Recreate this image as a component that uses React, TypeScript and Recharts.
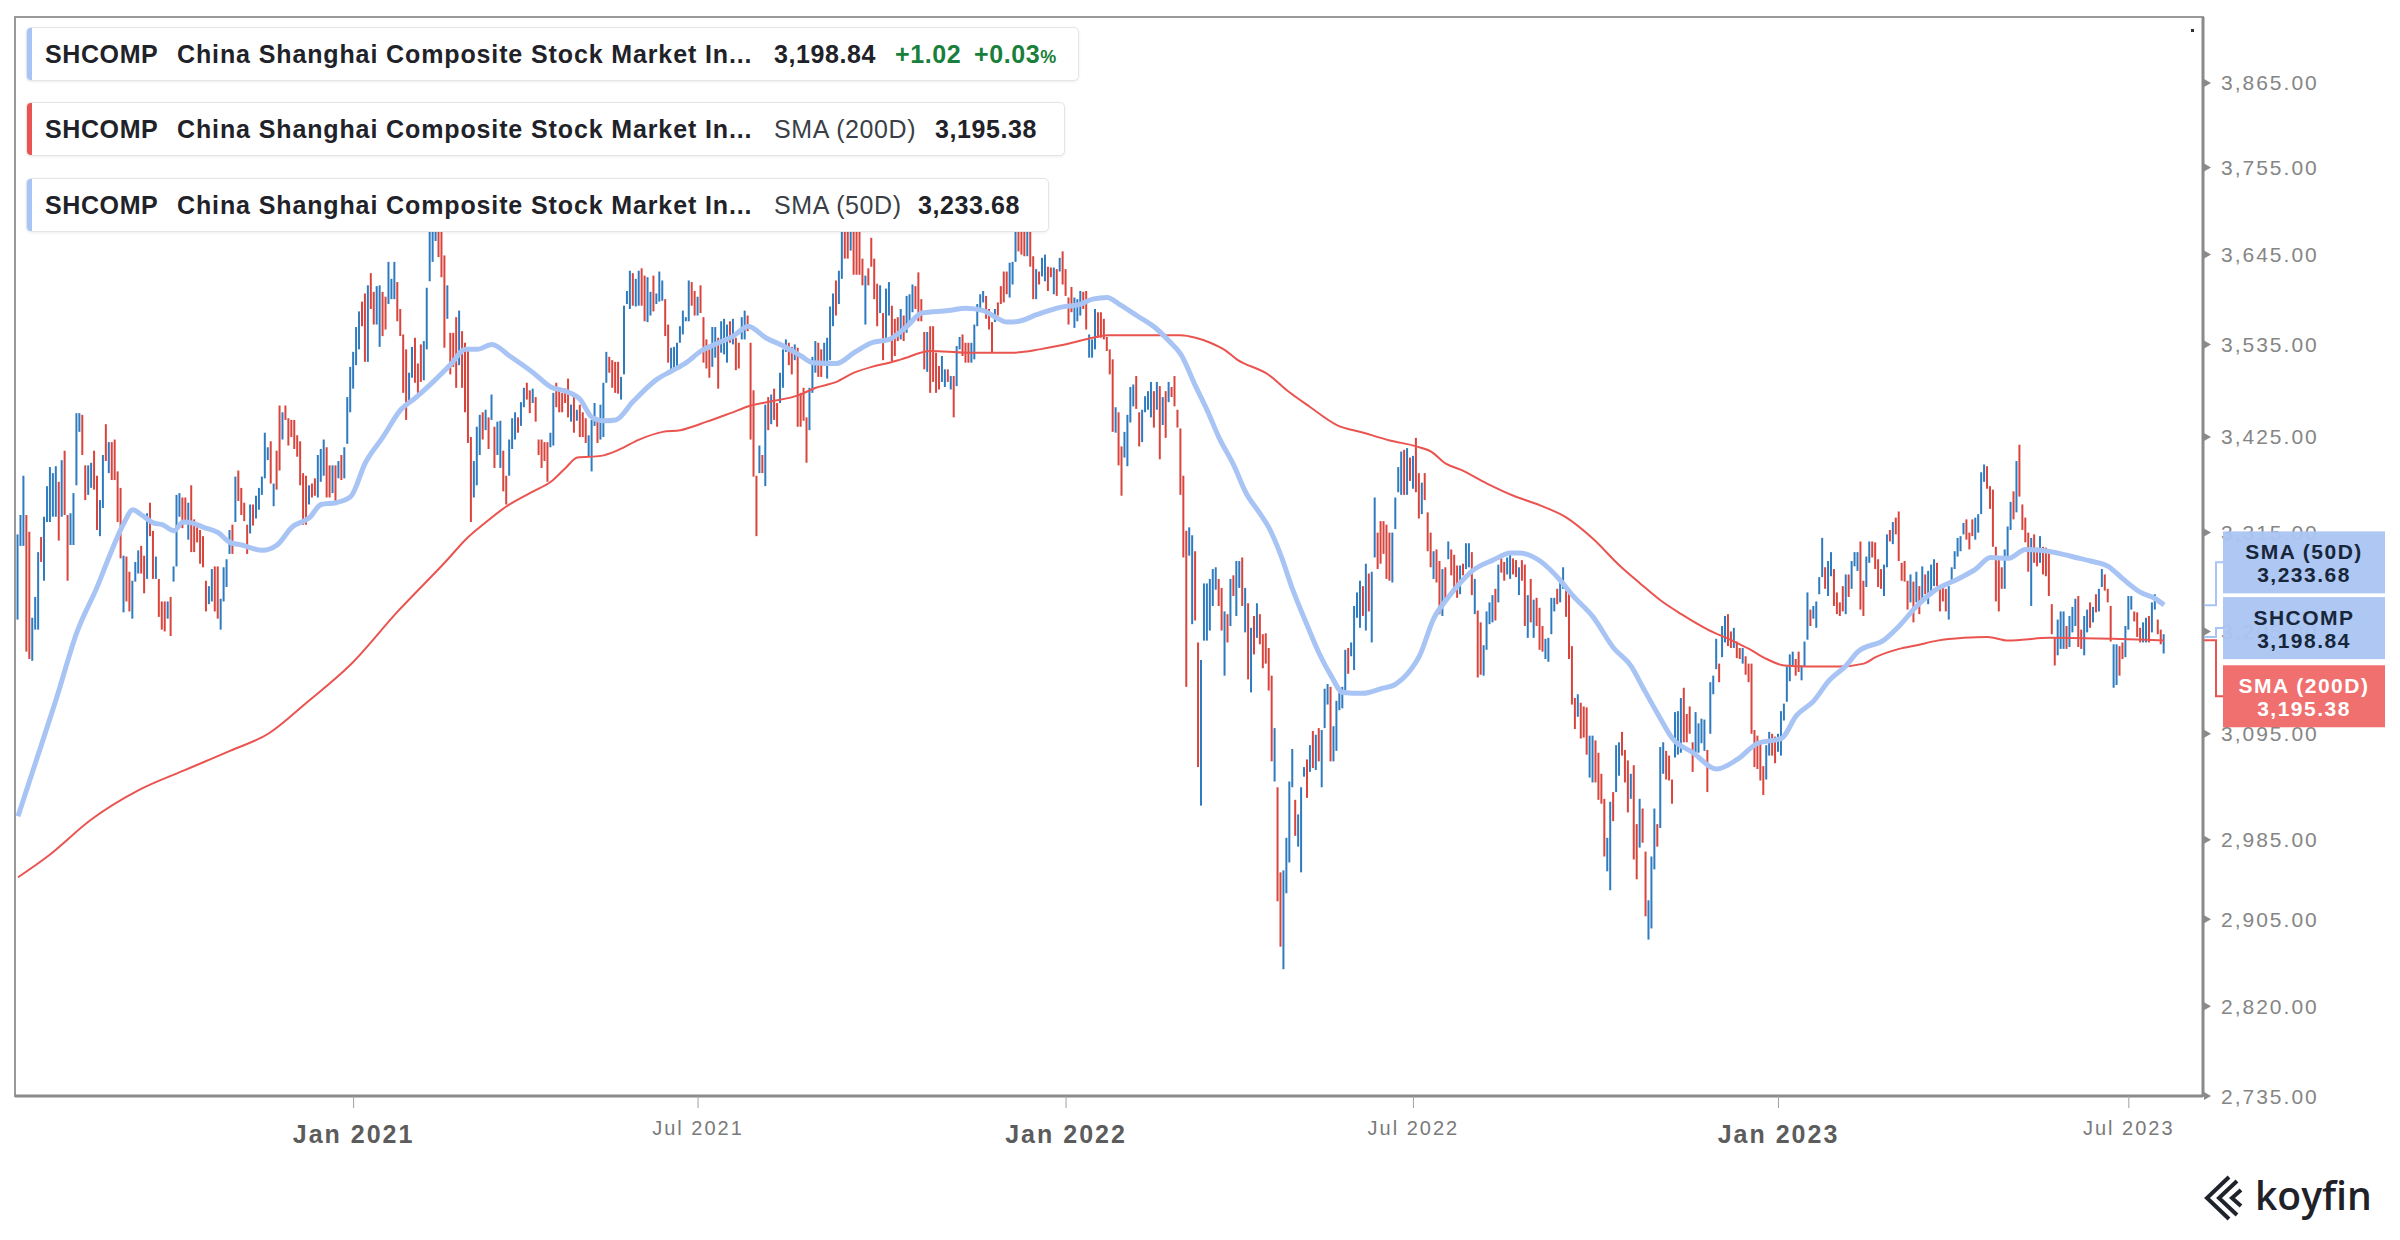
import React from 'react';
import { ComposedChart, Bar, Line, XAxis, YAxis, Cell, ReferenceLine, ReferenceArea } from 'recharts';

// Daily OHLC range bars: [high, low, up(1)/down(0)], one per trading day
const BARS_2020: number[][] = [
[3313,3218,1],[3335,3300,1],[3380,3300,1],[3335,3183,0],[3316,3175,0],[3220,3173,1],[3243,3207,1],[3293,3207,1],[3310,3282,0],[3333,3261,1],
[3368,3327,1],[3390,3327,1],[3383,3333,1],[3391,3333,1],[3373,3306,0],[3398,3333,1],[3409,3335,0],[3335,3261,0],[3337,3301,1],[3360,3301,1],
[3453,3369,1],[3453,3431,1],[3451,3404,0],[3392,3352,0],[3392,3358,1],[3395,3366,1],[3409,3364,0],[3380,3318,0],[3352,3311,1],[3404,3343,1],
[3440,3397,0],[3419,3383,1],[3419,3375,0],[3422,3375,0],[3385,3327,0],[3366,3286,0],[3289,3226,1],[3288,3238,0],[3271,3227,0],[3261,3219,1],
[3282,3260,1],[3295,3269,1],[3300,3269,0],[3289,3247,0],[3337,3263,1],[3349,3311,0],[3317,3263,0],[3288,3263,1],[3263,3221,0],[3238,3207,0],
[3238,3205,0],[3238,3219,1],[3243,3200,0],[3277,3260,1],[3358,3277,1],[3360,3333,1],[3355,3320,0],[3355,3328,0],[3349,3307,1],[3369,3293,0],
[3330,3293,0],[3321,3304,0],[3318,3280,0],[3311,3276,0],[3261,3227,0],[3255,3235,1],[3274,3238,1],[3277,3227,0],[3277,3219,0],[3241,3207,1],
[3276,3238,1],[3285,3254,1],[3318,3291,1],[3324,3291,0],[3379,3327,1],[3386,3351,0],[3366,3335,0],[3349,3328,0],[3324,3291,0],[3347,3314,1],
[3347,3323,0],[3357,3331,1],[3366,3341,1],[3379,3358,1],[3430,3377,1],[3413,3398,1],[3420,3371,0],[3371,3345,1],[3409,3364,0],[3462,3386,0],
[3454,3422,1],[3462,3445,0],[3447,3415,0],[3445,3425,0],[3445,3411,0],[3427,3402,0],
[3420,3369,0],[3383,3324,0],[3380,3324,0],[3369,3347,1],[3371,3355,0],[3377,3357,0],[3404,3355,1],[3411,3373,1],[3422,3380,1],[3413,3355,0],
[3392,3355,0],[3392,3360,1],[3392,3349,0],[3397,3377,1],[3404,3375,0],[3413,3377,1],[3472,3417,1],[3508,3454,1]
];

const BARS_2021: number[][] = [
[3526,3482,1],[3556,3510,1],[3575,3529,1],[3587,3557,0],[3597,3514,0],[3607,3514,1],[3622,3578,0],[3599,3559,0],[3606,3559,1],[3607,3532,1],
[3599,3545,0],[3593,3553,0],[3636,3584,1],[3615,3590,1],[3636,3590,1],[3611,3563,0],[3578,3545,0],[3547,3477,0],[3529,3445,0],[3501,3466,1],
[3532,3495,1],[3543,3489,0],[3512,3477,0],[3535,3490,0],[3539,3492,1],[3604,3529,1],[3700,3612,1],[3720,3636,1],[3731,3662,1],[3728,3642,0],
[3705,3617,0],[3644,3531,0],[3607,3566,1],[3549,3499,0],[3549,3508,0],[3568,3483,0],[3576,3510,1],[3551,3483,0],[3537,3454,0],[3529,3418,0],
[3425,3327,0],[3397,3355,1],[3437,3369,1],[3451,3404,1],[3454,3422,0],[3457,3433,1],[3448,3411,0],[3475,3445,1],[3437,3389,0],[3443,3404,1],
[3444,3389,1],[3409,3362,0],[3380,3347,0],[3422,3380,1],[3447,3411,1],[3454,3422,1],[3448,3430,0],[3466,3438,1],[3483,3460,1],[3489,3469,0],
[3480,3453,0],[3482,3465,1],[3472,3443,0],[3422,3404,0],[3422,3389,0],[3419,3397,0],[3419,3373,0],[3430,3413,1],[3477,3415,1],[3489,3460,0],
[3483,3454,0],[3477,3454,0],[3482,3465,0],[3494,3448,0],[3463,3443,1],[3477,3430,0],[3457,3444,1],[3463,3425,0],[3454,3425,0],[3447,3418,0],
[3427,3402,1],[3445,3385,1],[3465,3438,1],[3443,3418,0],
[3463,3422,1],[3489,3425,1],[3526,3489,1],[3520,3501,0],[3516,3483,0],[3514,3477,0],[3514,3476,0],[3496,3469,1],[3582,3499,1],[3600,3584,1],
[3625,3578,1],[3622,3582,0],[3615,3581,1],[3625,3582,1],[3628,3582,0],[3619,3563,0],[3617,3562,1],[3599,3570,1],[3619,3575,0],[3597,3584,1],
[3624,3587,1],[3613,3588,1],[3590,3545,0],[3559,3513,0],[3531,3504,1],[3532,3506,1],[3537,3508,1],[3557,3537,1],[3576,3547,1],[3568,3563,1],
[3613,3563,1],[3611,3582,0],[3600,3570,0],[3593,3570,1],[3607,3573,0],[3568,3513,0],[3541,3506,0],[3529,3495,0],[3556,3508,1],[3556,3519,1],
[3543,3482,0],[3563,3525,1],[3566,3523,1],[3559,3513,1],[3563,3537,0],[3566,3535,1],[3543,3504,0],[3537,3506,0],[3568,3541,1],[3576,3541,1],
[3570,3551,0],[3537,3422,0],[3480,3379,0],[3380,3311,0],[3415,3383,1],[3404,3383,0],[3463,3368,1],[3472,3433,0],[3475,3440,1],[3482,3445,0],
[3465,3437,0],[3501,3465,1],[3529,3483,1],[3541,3526,1],[3537,3510,0],[3532,3499,0],[3535,3516,1],[3531,3437,0],[3477,3437,0],[3483,3444,0],
[3448,3395,0],[3483,3433,1],[3520,3477,1],[3539,3501,1],[3537,3496,0],[3529,3496,0],[3537,3510,1],[3543,3494,1],[3581,3516,1],[3597,3557,1],
[3613,3570,0],[3625,3584,1],[3680,3615,1],[3700,3640,0],[3710,3640,0],[3723,3650,1],[3715,3620,0],[3700,3620,0],[3680,3620,0],[3640,3607,0],
[3619,3559,1],[3628,3607,0],[3666,3630,0],[3640,3590,0],[3609,3557,0],[3607,3573,1],[3573,3516,0],[3603,3541,1],[3611,3570,1],
[3582,3515,0],[3566,3521,0],[3568,3539,0],[3578,3541,1],[3570,3539,0],[3594,3549,1],[3596,3563,1],[3608,3574,1],[3606,3578,0],[3623,3563,0],
[3590,3563,0],[3550,3505,0],[3550,3502,1],[3557,3477,0],[3557,3490,0],[3525,3477,0],[3509,3481,0],[3521,3490,1],[3505,3484,1],[3505,3490,0],
[3497,3481,1],[3497,3448,0],[3533,3485,1],[3544,3529,1],[3547,3521,0],[3537,3513,0],[3537,3513,0],[3537,3513,1],[3559,3517,1],[3584,3557,1],
[3596,3578,1],[3600,3586,1],[3594,3566,0],[3578,3553,0],[3562,3525,0],[3578,3562,1],[3586,3570,0],[3606,3584,0],[3624,3586,0],[3624,3596,0],
[3635,3592,1],[3636,3608,1],[3695,3636,1],[3708,3649,0],[3700,3645,0],[3690,3643,0],[3688,3643,1],[3675,3630,0],[3643,3590,0],[3627,3590,1],
[3624,3608,0],[3641,3618,1],[3645,3612,1],[3630,3600,0],[3629,3617,0],[3629,3596,1],[3627,3594,0],[3641,3624,1],[3649,3608,0]
];

const BARS_2022: number[][] = [
[3627,3594,0],[3592,3559,0],[3605,3574,0],[3592,3555,1],[3590,3563,1],[3600,3570,1],[3599,3578,0],[3600,3553,0],[3547,3519,1],[3541,3519,1],
[3578,3529,1],[3574,3543,0],[3574,3543,0],[3566,3541,0],[3544,3527,0],[3529,3499,0],[3517,3431,0],[3460,3430,1],[3454,3392,0],[3414,3357,0],
[3431,3401,1],[3451,3391,1],[3484,3442,1],[3487,3461,1],[3497,3458,0],[3454,3414,0],[3457,3419,1],[3473,3454,1],[3479,3457,1],[3490,3448,1],
[3479,3436,0],[3490,3457,1],[3485,3399,0],[3472,3439,1],[3479,3424,0],[3490,3466,1],[3484,3472,0],[3497,3461,0],[3457,3436,0],
[3435,3358,0],[3380,3287,0],[3317,3145,0],[3321,3289,1],[3312,3213,1],[3294,3217,0],[3193,3060,0],[3174,3020,1],[3258,3195,1],[3258,3195,1],
[3263,3206,1],[3274,3233,1],[3276,3251,1],[3263,3233,0],[3253,3206,0],[3227,3157,1],[3224,3193,0],[3263,3211,1],[3267,3244,0],[3283,3222,1],
[3283,3253,1],[3287,3233,0],[3253,3204,1],[3236,3153,0],[3209,3139,1],[3222,3180,0],[3236,3198,1],[3224,3191,0],[3202,3165,0],[3203,3170,0],
[3187,3141,0],[3157,3066,0],[3101,3045,1],[3039,2923,0],[2952,2878,0],[2954,2856,1],[2987,2931,1],[3045,2962,1],[3079,3039,1],[3026,2989,0],
[3011,2978,1],[3039,2952,1],[3060,3050,1],[3068,3028,0],[3083,3055,1],[3098,3059,0],[3094,3057,1],[3101,3066,0],[3099,3039,1],[3143,3101,1],
[3148,3126,1],[3145,3066,0],[3103,3066,1],[3130,3077,1],[3141,3120,1],[3145,3122,1],[3185,3141,1],[3187,3159,0],[3193,3178,1],[3233,3163,1],
[3248,3220,1],[3261,3209,1],[3255,3222,0],[3280,3206,1],[3269,3227,0],[3271,3193,1],[3355,3287,1],[3315,3274,0],[3328,3280,0],[3328,3291,0],
[3324,3263,0],[3315,3261,0],[3315,3259,1],[3355,3319,1],[3390,3361,1],[3408,3358,1],[3410,3358,0],[3412,3358,1],[3401,3374,0],[3403,3365,1],
[3424,3361,0],[3383,3331,0],[3372,3336,1],[3383,3352,0],[3338,3294,0],[3315,3276,0],[3294,3263,1],[3296,3259,0],[3283,3224,0],[3274,3222,1],
[3276,3238,0],[3305,3285,1],[3296,3267,0],[3290,3251,0],[3278,3242,0],[3278,3246,1],[3280,3267,0],[3303,3274,1],
[3303,3276,1],[3293,3245,0],[3263,3224,1],[3228,3155,0],[3215,3158,0],[3190,3157,1],[3227,3185,1],[3237,3213,1],[3245,3215,1],[3252,3217,0],
[3279,3237,1],[3286,3270,0],[3282,3261,0],[3287,3268,1],[3293,3263,1],[3286,3268,0],[3284,3265,0],[3276,3245,1],[3284,3261,0],[3279,3211,0],
[3245,3198,1],[3263,3215,0],[3240,3198,1],[3242,3211,0],[3231,3185,0],[3211,3183,0],[3197,3175,1],[3198,3172,1],[3242,3202,1],[3242,3227,1],
[3252,3235,0],[3263,3237,1],[3276,3252,1],[3250,3221,0],[3247,3175,0],[3189,3126,0],[3133,3100,0],[3137,3113,1],[3128,3090,0],[3124,3091,0],
[3123,3073,0],[3093,3049,1],[3093,3044,1],[3088,3044,0],[3075,3026,0],[3053,3022,0],[3027,2968,0],[2987,2953,1],[3024,2934,1],[3034,3004,0],
[3083,3034,1],[3086,3051,1],[3097,3072,0],[3078,3044,0],[3067,3013,0],[3053,3027,1],[3062,2965,0],[3001,2945,0],[3027,2977,1],[3017,2982,0],
[2973,2908,0],[2924,2885,1],[2968,2896,1],[3017,2955,1],[3001,2978,0],[3081,2997,1],[3086,3053,1],[3077,3047,0],[3072,3046,0],[3047,3022,0],
[3118,3070,1],[3119,3073,1],[3133,3075,1],[3144,3086,0],[3116,3086,0],[3124,3095,0],[3086,3055,0],[3118,3075,1],[3106,3075,1],[3111,3085,1],
[3110,3077,1],[3078,3034,0],[3150,3095,1],[3157,3137,1],[3197,3164,1],[3170,3150,0],[3211,3177,1],[3222,3193,1],[3224,3189,0],[3205,3187,0],
[3209,3187,1],[3194,3176,0],[3187,3175,0],[3187,3170,1],[3178,3158,0],[3170,3150,0],[3170,3095,0],[3099,3060,0],[3093,3058,0],
[3085,3046,0],[3061,3031,0],[3083,3047,1],[3097,3072,1],[3095,3072,0],[3092,3064,0]
];

const BARS_2023: number[][] = [
[3095,3076,1],[3119,3072,1],[3127,3109,1],[3167,3129,1],[3180,3151,1],[3183,3167,1],[3175,3157,0],[3183,3161,0],[3168,3152,1],[3194,3167,1],
[3248,3196,1],[3229,3211,0],[3233,3219,1],[3238,3209,1],[3265,3246,1],[3309,3265,1],[3276,3252,0],[3283,3244,1],[3293,3266,1],[3274,3233,0],
[3248,3224,0],[3237,3222,0],[3255,3227,0],[3268,3224,1],[3268,3243,0],[3283,3252,1],[3293,3277,1],[3293,3272,1],[3305,3229,0],[3261,3222,0],
[3288,3254,1],[3305,3281,1],[3305,3287,0],[3304,3274,0],[3285,3254,0],[3274,3252,0],[3279,3244,1],[3313,3276,1],[3318,3305,0],[3327,3302,1],
[3332,3313,0],[3339,3283,0],[3281,3261,0],[3283,3260,0],[3261,3229,0],[3268,3237,1],[3260,3215,0],[3271,3237,1],[3255,3224,0],[3277,3238,1],
[3268,3246,0],[3272,3235,1],[3279,3244,1],[3285,3255,1],[3281,3255,0],[3252,3227,0],[3257,3238,0],[3252,3227,0],[3255,3218,1],[3276,3260,1],
[3294,3274,1],[3309,3288,1],[3311,3294,1],[3326,3313,1],[3330,3307,0],[3315,3296,0],[3330,3311,0],[3332,3307,1],[3336,3315,1],[3384,3336,1],
[3393,3373,1],[3391,3365,0],[3368,3342,0],[3364,3299,0],[3299,3238,0],[3285,3227,0],[3276,3252,0],[3296,3252,1],[3322,3287,1],[3350,3318,1],
[3362,3330,0],[3397,3338,1],[3416,3356,0],[3347,3318,0],[3332,3304,0],[3315,3271,0],[3309,3233,1],[3313,3281,0],[3298,3277,0],[3311,3281,1],
[3299,3268,0],[3298,3266,0],[3293,3244,0],
[3235,3202,0],[3199,3168,0],[3218,3179,1],[3227,3186,1],[3227,3186,1],[3211,3186,0],[3222,3188,1],[3232,3204,1],[3241,3211,1],[3244,3188,0],
[3207,3186,0],[3222,3179,1],[3229,3204,1],[3237,3209,0],[3232,3215,1],[3246,3226,0],[3252,3227,1],[3274,3254,1],[3268,3250,0],[3252,3237,0],
[3233,3194,0],[3191,3144,1],[3191,3147,1],[3189,3157,0],[3193,3175,0],[3211,3177,1],[3244,3207,1],[3244,3229,1],[3227,3216,0],[3226,3199,0],
[3209,3193,0],[3215,3193,1],[3220,3193,1],[3222,3193,0],[3237,3204,1],[3246,3229,1],[3218,3202,0],[3207,3191,0],[3202,3181,1]
];

// SMA lines: [trading-day index, value]
const SMA50_POINTS: number[][] = [
[0,3009],[6,3065],[13,3132],[20,3204],[27,3255],[31,3288],[36,3326],[39,3341],[42,3335],[46,3326],[49,3324],[53,3317],[56,3327],[59,3326],
[63,3321],[68,3315],[72,3304],[76,3301],[83,3295],[88,3301],[93,3321],[99,3332],[103,3347],[108,3349],[113,3356],[118,3395],[124,3425],
[130,3457],[135,3471],[141,3490],[147,3511],[152,3529],[156,3529],[161,3535],[167,3521],[175,3501],[181,3484],[186,3479],[191,3469],
[195,3448],[199,3444],[203,3445],[209,3467],[217,3493],[222,3503],[227,3513],[232,3527],[238,3537],[243,3545],[248,3557],[254,3543],
[260,3533],[266,3521],[270,3513],[278,3512],[284,3525],[290,3537],[296,3541],[302,3557],[307,3573],[316,3576],[322,3579],[328,3576],
[332,3568],[336,3562],[340,3563],[346,3571],[354,3580],[361,3584],[365,3590],[370,3592],[374,3584],[380,3570],[387,3553],[391,3539],
[395,3523],[400,3485],[404,3456],[408,3424],[413,3392],[417,3361],[422,3336],[425,3320],[429,3289],[433,3251],[438,3211],[442,3181],
[446,3157],[450,3139],[457,3138],[463,3143],[468,3148],[473,3163],[476,3178],[481,3220],[485,3239],[490,3259],[494,3272],[501,3284],
[507,3292],[510,3292],[517,3283],[524,3261],[528,3245],[535,3221],[542,3187],[548,3167],[552,3144],[557,3116],[562,3090],[569,3075],
[577,3058],[584,3068],[591,3085],[599,3090],[604,3114],[610,3130],[615,3151],[621,3168],[625,3183],[634,3196],[639,3211],[645,3233],
[651,3250],[659,3263],[665,3274],[670,3287],[676,3286],[682,3296],[687,3295],[694,3291],[699,3287],[704,3283],[710,3277],[715,3263],
[721,3248],[726,3241],[729,3234]
];

const SMA200_POINTS: number[][] = [
[0,2947],[10,2968],[25,3006],[41,3036],[56,3056],[72,3077],[85,3095],[98,3128],[113,3169],[129,3227],[146,3285],[152,3307],[159,3327],
[166,3345],[175,3362],[181,3373],[186,3389],[190,3401],[198,3403],[204,3410],[211,3422],[219,3431],[225,3433],[234,3443],[242,3453],
[249,3462],[256,3467],[265,3474],[271,3483],[278,3490],[284,3501],[290,3508],[296,3513],[300,3517],[310,3527],[322,3525],[338,3525],
[347,3529],[353,3533],[358,3537],[365,3543],[370,3546],[389,3546],[395,3546],[400,3543],[405,3537],[410,3528],[414,3517],[425,3498],
[431,3480],[439,3460],[448,3439],[457,3430],[466,3421],[475,3414],[480,3408],[485,3394],[490,3387],[499,3371],[508,3357],[517,3346],
[526,3332],[535,3308],[544,3278],[551,3258],[558,3239],[565,3224],[574,3207],[583,3194],[588,3186],[594,3175],[600,3168],[608,3167],
[619,3167],[627,3170],[631,3177],[639,3186],[645,3190],[652,3195],[661,3198],[669,3199],[676,3195],[690,3198],[729,3195]
];

const MONTH_TICKS = [114, 231, 356, 474, 598, 717];
const MONTH_LABELS = ['Jan 2021', 'Jul 2021', 'Jan 2022', 'Jul 2022', 'Jan 2023', 'Jul 2023'];
const PRICE_TICKS = [2735, 2820, 2905, 2985, 3095, 3205, 3315, 3425, 3535, 3645, 3755, 3865];

const LAST_CLOSE = 3198.84;
const LAST_CHANGE = 1.02;
const LAST_CHANGE_PCT = 0.03;
const LAST_SMA200 = 3195.38;
const LAST_SMA50 = 3233.68;

const BLUE = '#2e7bc0';
const RED = '#d9443c';
const SMA50_COLOR = '#a8c4f4';
const SMA200_COLOR = '#ea5450';
const FONT = '"Liberation Sans", Arial, sans-serif';

const ALL_BARS = [...BARS_2020, ...BARS_2021, ...BARS_2022, ...BARS_2023];
const barData = ALL_BARS.map(([h, l, u], i) => ({ t: i, range: [l, h], up: u }));
const sma50Data = SMA50_POINTS.map(([t, v]) => ({ t, v }));
const sma200Data = SMA200_POINTS.map(([t, v]) => ({ t, v }));

const SIDE_LABELS = [
  { id: 'sma50', title: 'SMA (50D)', value: LAST_SMA50, fill: '#abc5f3', textFill: '#17263a', line: SMA50_COLOR, shift: -43 },
  { id: 'close', title: 'SHCOMP', value: LAST_CLOSE, fill: '#abc5f3', textFill: '#17263a', line: SMA50_COLOR, shift: -9 },
  { id: 'sma200', title: 'SMA (200D)', value: LAST_SMA200, fill: '#ef6a6a', textFill: '#ffffff', line: SMA200_COLOR, shift: 56 },
];

const fmt = (v: number) => v.toLocaleString('en-US', { minimumFractionDigits: 2, maximumFractionDigits: 2 });

const DateTick = (props: any) => {
  const { x, y, payload } = props;
  const idx = MONTH_TICKS.indexOf(payload.value);
  const label = idx >= 0 ? MONTH_LABELS[idx] : '';
  const isJan = label.startsWith('Jan');
  return (
    <text x={x} y={y + (isJan ? 24 : 18)} textAnchor="middle" dominantBaseline="central"
      fontFamily={FONT} fontSize={isJan ? 25 : 20} fontWeight={isJan ? 700 : 400}
      fill={isJan ? '#5c5c5c' : '#7a7a7a'} letterSpacing={2}>{label}</text>
  );
};

const PriceTick = (props: any) => {
  const { x, y, payload } = props;
  return (
    <g>
      <polygon points={`${x + 1},${y - 4} ${x + 8},${y} ${x + 1},${y + 4}`} fill="#8a8a8a" />
      <text x={x + 18} y={y} dominantBaseline="central" fontFamily={FONT} fontSize={21}
        letterSpacing={2} fill="#858585">{fmt(payload.value)}</text>
    </g>
  );
};

// Reads the pixel position that Recharts gives to a reference value, so the side labels can be drawn on top.
const Probe = (props: any) => {
  const { viewBox, id, onPos } = props;
  const ax = viewBox ? viewBox.x + viewBox.width : null;
  const y = viewBox ? viewBox.y : null;
  React.useEffect(() => {
    if (ax != null && y != null) onPos(id, ax, y);
  }, [ax, y, id, onPos]);
  return null;
};

const rowText: React.CSSProperties = {
  position: 'absolute', top: 0, lineHeight: '52px', fontSize: 25, fontFamily: FONT,
  fontWeight: 700, color: '#1f2329', letterSpacing: 0.6, whiteSpace: 'nowrap',
};
const nameText: React.CSSProperties = { ...rowText, letterSpacing: 0.88 };

const LegendRow = ({ top, width, color, children }: any) => (
  <div style={{
    position: 'absolute', left: 26, top, width, height: 54, boxSizing: 'border-box', background: '#fff',
    border: '1px solid #e3e5e8', borderRadius: 5, boxShadow: '0 1px 3px rgba(0,0,0,0.07)', overflow: 'hidden',
  }}>
    <div style={{ position: 'absolute', left: 0, top: 0, bottom: 0, width: 5, background: color }} />
    {children}
  </div>
);

export default function App() {
  const [pos, setPos] = React.useState<Record<string, { ax: number; y: number }>>({});
  const onPos = React.useCallback((id: string, ax: number, y: number) => {
    setPos((p) => (p[id] && p[id].ax === ax && p[id].y === y ? p : { ...p, [id]: { ax, y } }));
  }, []);

  return (
    <div style={{ position: 'absolute', left: 0, top: 0, width: 2400, height: 1240, background: '#fff' }}>
      <ComposedChart width={2400} height={1240} data={barData} margin={{ top: 17, right: 0, bottom: 84, left: 15 }}>
        <XAxis dataKey="t" type="number" domain={[-1.02, 742.2]} allowDataOverflow ticks={MONTH_TICKS} interval={0}
          height={60} tickSize={12} tickMargin={2} axisLine={{ stroke: '#8a8a8a', strokeWidth: 3 }}
          tickLine={{ stroke: '#a0a0a0' }} tick={<DateTick />} />
        <YAxis orientation="right" scale="log" domain={[2735, 3953]} allowDataOverflow ticks={PRICE_TICKS}
          interval={0} width={197} tickSize={0} tickMargin={0} tickLine={false}
          axisLine={{ stroke: '#8a8a8a', strokeWidth: 3 }} tick={<PriceTick />} />
        <ReferenceArea x1={-1.02} x2={742.2} y1={2735} y2={3953} fill="none" stroke="#9a9a9a" strokeWidth={2} ifOverflow="visible" />
        <Bar dataKey="range" barSize={2} isAnimationActive={false}>
          {barData.map((d, i) => <Cell key={i} fill={d.up ? BLUE : RED} />)}
        </Bar>
        <Line data={sma200Data} dataKey="v" type="monotone" stroke={SMA200_COLOR} strokeWidth={2} dot={false}
          activeDot={false} isAnimationActive={false} />
        <Line data={sma50Data} dataKey="v" type="monotone" stroke={SMA50_COLOR} strokeWidth={5} dot={false}
          activeDot={false} isAnimationActive={false} />
        {SIDE_LABELS.map((s) => (
          <ReferenceLine key={s.id} y={s.value} stroke="none" ifOverflow="visible"
            label={<Probe id={s.id} onPos={onPos} />} />
        ))}
      </ComposedChart>

      <LegendRow top={27} width={1053} color={SMA50_COLOR}>
        <span style={{ ...rowText, left: 18 }}>SHCOMP</span>
        <span style={{ ...nameText, left: 150 }}>China Shanghai Composite Stock Market In...</span>
        <span style={{ ...rowText, left: 747 }}>{fmt(LAST_CLOSE)}</span>
        <span style={{ ...rowText, left: 868, color: '#18803a' }}>+{LAST_CHANGE.toFixed(2)}</span>
        <span style={{ ...rowText, left: 947, color: '#18803a' }}>+{LAST_CHANGE_PCT.toFixed(2)}<span style={{ fontSize: 18 }}>%</span></span>
      </LegendRow>
      <LegendRow top={102} width={1039} color={SMA200_COLOR}>
        <span style={{ ...rowText, left: 18 }}>SHCOMP</span>
        <span style={{ ...nameText, left: 150 }}>China Shanghai Composite Stock Market In...</span>
        <span style={{ ...rowText, left: 747, fontWeight: 400, color: '#3a3f47' }}>SMA (200D)</span>
        <span style={{ ...rowText, left: 908 }}>{fmt(LAST_SMA200)}</span>
      </LegendRow>
      <LegendRow top={178} width={1023} color={SMA50_COLOR}>
        <span style={{ ...rowText, left: 18 }}>SHCOMP</span>
        <span style={{ ...nameText, left: 150 }}>China Shanghai Composite Stock Market In...</span>
        <span style={{ ...rowText, left: 747, fontWeight: 400, color: '#3a3f47' }}>SMA (50D)</span>
        <span style={{ ...rowText, left: 891 }}>{fmt(LAST_SMA50)}</span>
      </LegendRow>

      <svg style={{ position: 'absolute', left: 0, top: 0, pointerEvents: 'none' }} width={2400} height={1240}>
        {SIDE_LABELS.map((s) => {
          const p = pos[s.id];
          if (!p) return null;
          const cy = p.y + s.shift;
          const cx = p.ax + 101;
          return (
            <g key={s.id}>
              <path d={`M${p.ax + 1},${p.y} H${p.ax + 13} V${cy} H${p.ax + 20}`} stroke={s.line} strokeWidth={2} fill="none" />
              <rect x={p.ax + 20} y={cy - 31} width={162} height={62} fill={s.fill} fillOpacity={0.96} />
              <text x={cx} y={cy - 11} textAnchor="middle" dominantBaseline="central" fontFamily={FONT}
                fontSize={21} fontWeight={700} letterSpacing={1.5} fill={s.textFill}>{s.title}</text>
              <text x={cx} y={cy + 12} textAnchor="middle" dominantBaseline="central" fontFamily={FONT}
                fontSize={21} fontWeight={700} letterSpacing={1.5} fill={s.textFill}>{fmt(s.value)}</text>
            </g>
          );
        })}
        <rect x={2191} y={29} width={3} height={3} fill="#333" />
        <g stroke="#1f232b" strokeWidth={4} fill="none" strokeLinejoin="miter">
          <path d="M2229,1177 L2207,1198 L2229,1219" />
          <path d="M2237,1181 L2219,1198 L2237,1215" />
          <path d="M2241,1190 L2232,1198 L2241,1206" />
        </g>
        <text x={2255} y={1210} fontFamily='"Open Sans", sans-serif' fontWeight={600} fontSize={39} fill="#1f2329">koyfin</text>
      </svg>
    </div>
  );
}
